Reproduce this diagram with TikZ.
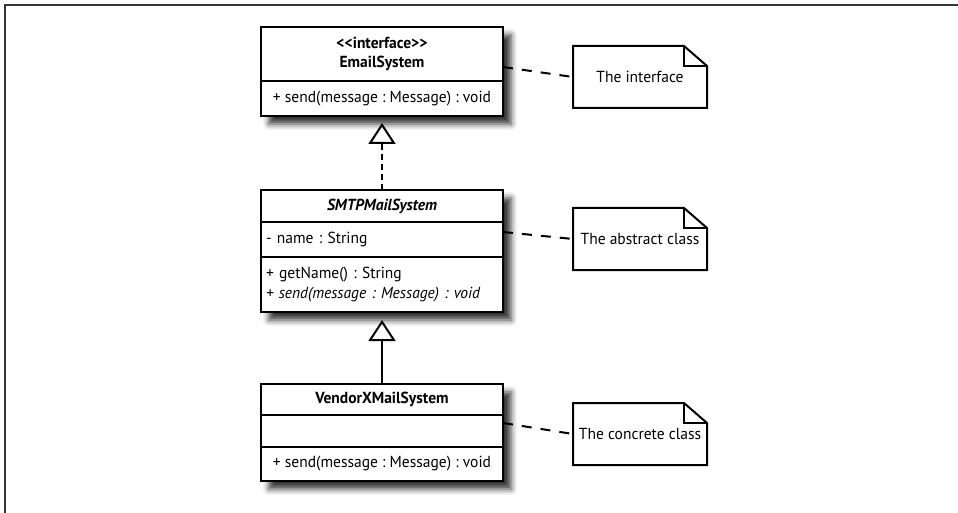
\documentclass[tikz,border=0pt]{standalone}
\usepackage{fontspec}
\setmainfont{PT Sans}[FakeStretch=0.97]
\usetikzlibrary{positioning,arrows.meta,calc,fit,backgrounds,shadows.blur}
\frenchspacing

\begin{document}
\begin{tikzpicture}[
  x=1pt, y=-1pt,                % <-- 1 unit = 1 pixel, y going down
  font=\fontsize{16}{19.5}\selectfont,
  cell/.style={draw=black, line width=2pt, fill=white, minimum width=242pt,
               inner sep=0pt, outer sep=0pt, align=center},
  leftcell/.style={cell, inner xsep=5pt, text width=232pt, align=left},
  classbg/.style={fill=white, inner sep=0pt, outer sep=0pt,
                  blur shadow={shadow xshift=8pt, shadow yshift=-8pt,
                               shadow blur radius=6pt, shadow opacity=80}},
  umlnote/.style={minimum width=134pt, minimum height=62pt, inner sep=0pt,
                  outer sep=0pt},
  noteline/.style={line width=2pt, draw=black, line join=miter},
  notelink/.style={line width=2pt, draw=black, dash pattern=on 10pt off 9pt},
  realize/.style={line width=2pt, dash pattern=on 6pt off 4pt,
                  -{Triangle[open, length=21pt, width=27pt]}, shorten >=7pt},
  inherit/.style={line width=2pt,
                  -{Triangle[open, length=21pt, width=27pt]}, shorten >=8pt},
  framebar/.style={line width=2pt, draw=black!80}
]
\useasboundingbox (0,0) rectangle (958,513);

% ===================== frame =====================
\coordinate (fb) at (4.5,513);
\coordinate (fc) at (4.5,5.5);
\coordinate (fr) at (958,5.5);
\draw[framebar] (fb) -- (fc) -- (fr);

% ===================== interface =====================
\node[cell, minimum height=54pt] (emailName) at (382,54)
  {\textbf{<\kern0pt<interface>\kern0pt>}\\\textbf{EmailSystem}};
\node[cell, minimum height=35pt, below=0pt of emailName] (emailOps)
  {+ send(message : Message) : void};

% ===================== abstract class =====================
\node[cell, minimum height=32pt] (smtpName) at (382,206)
  {\textbf{\textit{SMTPMailSystem}}};
\node[leftcell, minimum height=35pt, below=0pt of smtpName] (smtpAttr)
  {- name : String};
\node[leftcell, minimum height=55pt, below=0pt of smtpAttr] (smtpOps)
  {+ getName() : String\\\textit{+ send(message : Message) : void}};

% ===================== concrete class =====================
\node[cell, minimum height=31pt] (vendorName) at (382,399.5)
  {\textbf{VendorXMailSystem}};
\node[cell, minimum height=32pt, below=0pt of vendorName] (vendorAttr) {};
\node[cell, minimum height=34pt, below=0pt of vendorAttr] (vendorOps)
  {+ send(message : Message) : void};

% shadows behind each class
\begin{scope}[on background layer]
  \node[classbg, fit=(emailName)(emailOps)] (emailBg) {};
  \node[classbg, fit=(smtpName)(smtpOps)] (smtpBg) {};
  \node[classbg, fit=(vendorName)(vendorOps)] (vendorBg) {};
\end{scope}

% ===================== arrows =====================
\draw[realize] (smtpName.north) -- (emailOps.south);
\draw[inherit] (vendorName.north) -- (smtpOps.south);

% ===================== notes =====================
\node[umlnote] (noteIface)    at (640,77)  {The interface};
\node[umlnote] (noteAbstract) at (640,239) {The abstract class};
\node[umlnote] (noteConcrete) at (640,434) {The concrete class};

\foreach \n in {noteIface,noteAbstract,noteConcrete} {
  \draw[noteline] (\n.north west) -- ([xshift=-23pt]\n.north east)
    -- ([yshift=-20pt]\n.north east) -- (\n.south east)
    -- (\n.south west) -- cycle;
  \draw[noteline] ([xshift=-23pt]\n.north east) |- ([yshift=-20pt]\n.north east);
}

% note links
\draw[notelink] ([yshift=-13pt]emailName.east) -- (noteIface.west);
\draw[notelink] ([yshift=7.5pt]smtpAttr.east) -- (noteAbstract.west);
\draw[notelink] ([yshift=8pt]vendorAttr.east) -- (noteConcrete.west);

\end{tikzpicture}
\end{document}
